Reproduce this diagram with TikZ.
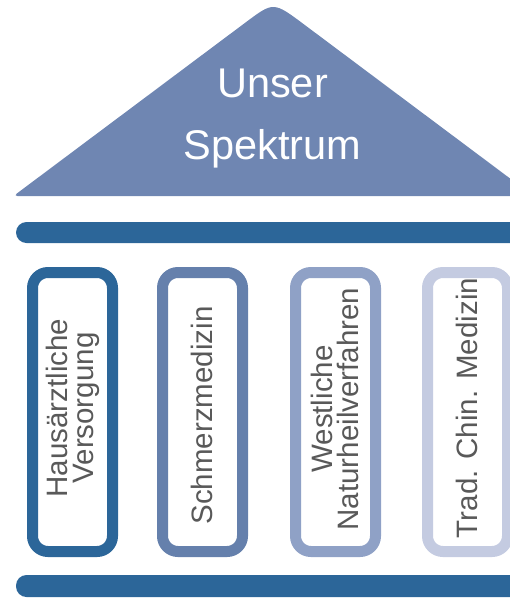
\documentclass[tikz,border=0pt]{standalone}
\usepackage{fontspec}
\setmainfont{Liberation Sans}
\definecolor{bardark}{RGB}{44,102,153}
\definecolor{roofblue}{RGB}{111,134,178}
\definecolor{pilA}{RGB}{44,102,153}
\definecolor{pilB}{RGB}{101,128,172}
\definecolor{pilC}{RGB}{143,161,198}
\definecolor{pilD}{RGB}{196,203,225}
\definecolor{labgray}{RGB}{89,89,89}
\tikzset{
  pillar/.style={draw, fill=white, line width=11pt, rounded corners=15.5pt,
    minimum width=80pt, minimum height=279pt, inner sep=0pt},
  lab/.style={rotate=90, align=center, inner sep=0pt, text=labgray,
    font=\fontsize{29.5}{26}\selectfont},
  roofttl/.style={align=center, inner sep=0pt, text=white,
    font=\fontsize{41.5}{62}\selectfont},
  beam/.style={fill=bardark, rounded corners=10.5pt}
}
\begin{document}
\begin{tikzpicture}[x=1pt,y=-1pt]
\useasboundingbox (0,0) rectangle (510,598);
\clip (0,0) rectangle (510,598);
% roof
\fill[roofblue] (243,24.4) .. controls (273.5,1.6) .. (304,24.4)
  [rounded corners=4pt] -- (533.5,196) -- (13.5,196) -- cycle;
\node[roofttl] (title) at (272.5,118.5) {Unser\\Spektrum};
% beams
\fill[beam] (16,222) rectangle (545,243);
\fill[beam] (16,575) rectangle (545,597);
% pillars
\node[pillar, draw=pilA] (pA) at (72.5,412) {};
\node[pillar, draw=pilB] (pB) at (202.5,412) {};
\node[pillar, draw=pilC] (pC) at (335.5,412) {};
\node[pillar, draw=pilD] (pD) at (467.5,412) {};
% labels
\node[lab] (tA) at (72.4,408) {Hausärztliche\\Versorgung};
\node[lab] (tB) at (202.2,415.5) {Schmerzmedizin};
\node[lab] (tC) at (335.2,409) {Westliche\\Naturheilverfahren};
\node[lab] (tD) at (466.5,408) {Trad. Chin. Medizin};
\end{tikzpicture}
\end{document}
